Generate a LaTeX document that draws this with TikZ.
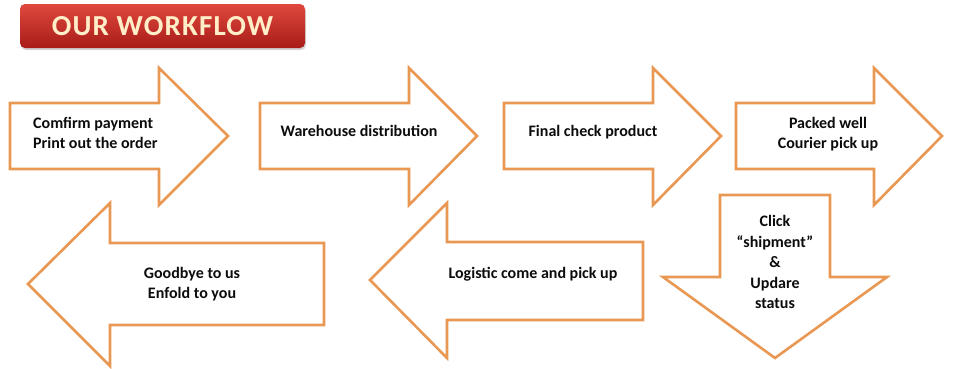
\documentclass[tikz,border=0pt]{standalone}
\usepackage{fontspec}
\setmainfont{Carlito}
\usetikzlibrary{positioning,shadows}
\definecolor{ink}{RGB}{12,12,12}
\definecolor{rim}{RGB}{233,152,84}
\definecolor{titletop}{RGB}{224,72,62}
\definecolor{titlebot}{RGB}{168,28,24}
\definecolor{titletext}{RGB}{255,238,200}
\tikzset{
  every picture/.style={x=1pt, y=-1pt},
  flowarrow/.style={draw=rim, line width=2.6pt, fill=white, line join=miter},
  steptext/.style={font=\bfseries\fontsize{16}{20.5}\selectfont, text=ink, align=center, inner sep=0pt},
  titlebox/.style={rounded corners=5pt, top color=titletop, bottom color=titlebot, minimum width=285pt, minimum height=44pt,
    text=titletext, font=\bfseries\fontsize{29}{29}\selectfont\addfontfeatures{LetterSpace=4},
    drop shadow={opacity=0.35, shadow xshift=1pt, shadow yshift=-2pt}},
}

\begin{document}
\begin{tikzpicture}
  \useasboundingbox (0,0) rectangle (960,368);
  \node[titlebox] (title) at (162.5,26) {OUR WORKFLOW};

  \draw[flowarrow] (10,103) -- (159,103) -- (159,68) -- (228,136) -- (159,205) -- (159,169) -- (10,169) -- cycle;
  \draw[flowarrow] (260,103) -- (409,103) -- (409,68) -- (477,136) -- (409,205) -- (409,169) -- (260,169) -- cycle;
  \draw[flowarrow] (504,103) -- (653,103) -- (653,68) -- (721,136) -- (653,205) -- (653,169) -- (504,169) -- cycle;
  \draw[flowarrow] (736,103) -- (874,103) -- (874,68) -- (942,136) -- (874,205) -- (874,169) -- (736,169) -- cycle;
  \draw[flowarrow] (720,195) -- (830,195) -- (830,277) -- (887,277) -- (775,358) -- (663,277) -- (720,277) -- cycle;
  \draw[flowarrow] (643,242) -- (447,242) -- (447,203) -- (370,280) -- (447,358) -- (447,320) -- (643,320) -- cycle;
  \draw[flowarrow] (324,243) -- (110,243) -- (110,203) -- (28,284) -- (110,366) -- (110,325) -- (324,325) -- cycle;

  \node[steptext, align=left, anchor=west] (confirm) at (33,133) {Comfirm payment\\Print out the order};
  \node[steptext] (warehouse) at (359,131) {Warehouse distribution};
  \node[steptext] (check) at (593,132) {Final check product};
  \node[steptext] (packed) at (828,134) {Packed well\\Courier pick up};
  \node[steptext] (click) at (775,262) {Click\\“shipment”\\\&\\Updare\\status};
  \node[steptext] (logistic) at (533,274) {Logistic come and pick up};
  \node[steptext] (goodbye) at (192,284) {Goodbye to us\\Enfold to you};
\end{tikzpicture}
\end{document}
